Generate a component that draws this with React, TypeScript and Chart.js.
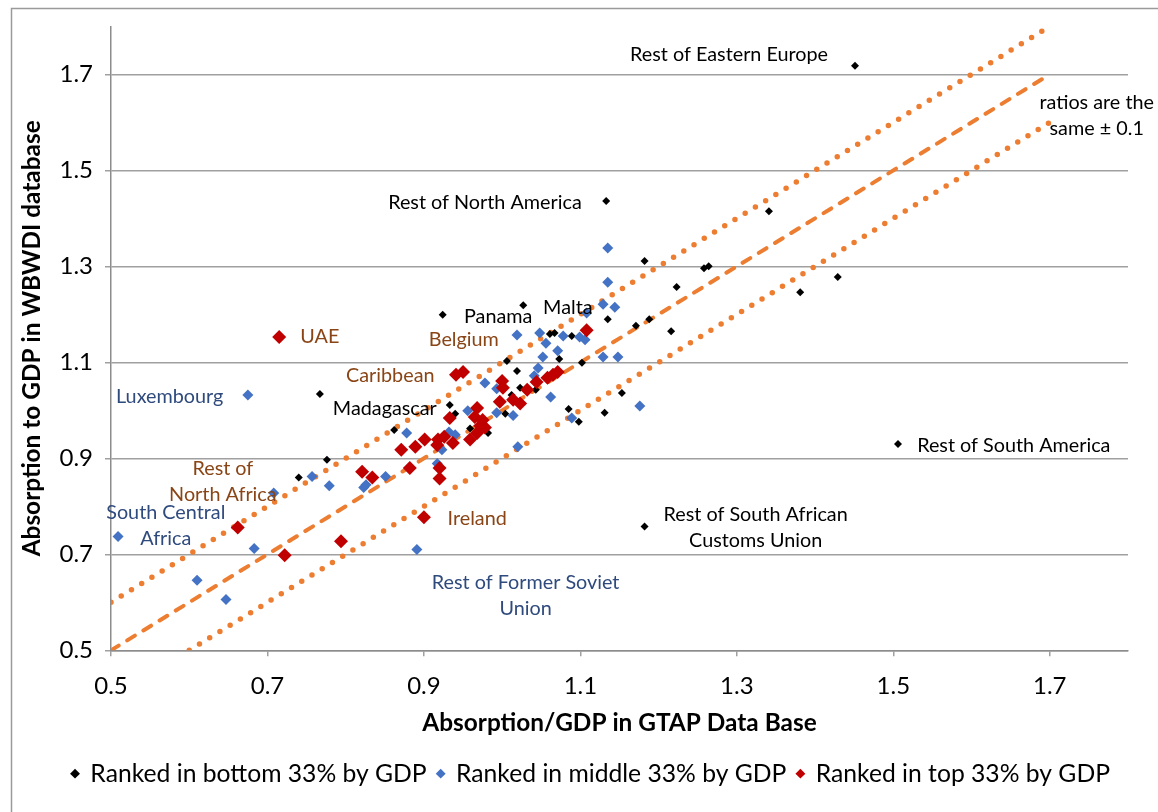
import React, { useEffect, useRef } from 'react';
import { Chart, registerables } from 'chart.js';

Chart.register(...registerables);

// Ranked in bottom 33% by GDP
const bottomX = [1.451, 1.133, 1.341, 1.182, 1.258, 1.264, 1.223, 1.429, 1.381, 0.924, 1.027, 1.135, 1.188, 1.171, 1.216, 1.061, 1.067, 1.089, 1.006, 1.019, 1.073, 1.102, 1.023, 1.043, 1.012, 1.004, 0.982, 1.085, 1.098, 1.131, 1.153, 1.506, 1.182, 0.767, 0.862, 0.776, 0.740, 0.933, 0.940, 0.959];
const bottomY = [1.718, 1.436, 1.415, 1.311, 1.296, 1.300, 1.257, 1.278, 1.246, 1.199, 1.219, 1.190, 1.190, 1.176, 1.165, 1.159, 1.161, 1.155, 1.103, 1.082, 1.107, 1.099, 1.047, 1.043, 1.032, 0.993, 0.953, 1.003, 0.976, 0.995, 1.036, 0.930, 0.758, 1.034, 0.959, 0.897, 0.860, 1.011, 0.993, 0.962];

// Ranked in middle 33% by GDP
const middleX = [0.675, 0.509, 0.610, 0.647, 0.683, 0.708, 0.757, 0.779, 0.823, 0.826, 0.851, 0.878, 0.891, 0.917, 0.923, 0.932, 0.940, 0.956, 0.978, 0.993, 0.993, 1.014, 1.020, 1.019, 1.048, 1.056, 1.078, 1.099, 1.106, 1.071, 1.052, 1.129, 1.148, 1.046, 1.041, 1.062, 1.089, 1.176, 1.108, 1.129, 1.144, 1.135, 1.135];
const middleY = [1.032, 0.737, 0.646, 0.606, 0.712, 0.828, 0.862, 0.843, 0.839, 0.845, 0.862, 0.953, 0.710, 0.889, 0.918, 0.955, 0.949, 0.999, 1.057, 1.045, 0.995, 0.989, 0.924, 1.157, 1.161, 1.140, 1.155, 1.153, 1.147, 1.124, 1.111, 1.111, 1.111, 1.088, 1.072, 1.028, 0.984, 1.009, 1.203, 1.221, 1.215, 1.267, 1.338];

// Ranked in top 33% by GDP
const topX = [0.715, 1.108, 0.941, 0.950, 1.000, 1.001, 0.997, 1.014, 1.023, 1.032, 1.044, 1.058, 1.065, 1.071, 0.968, 0.965, 0.975, 0.972, 0.978, 0.968, 0.959, 0.933, 0.918, 0.926, 0.917, 0.901, 0.889, 0.871, 0.920, 0.920, 0.882, 0.821, 0.834, 0.662, 0.722, 0.794, 0.900, 0.937];
const topY = [1.153, 1.167, 1.074, 1.080, 1.061, 1.047, 1.018, 1.022, 1.014, 1.043, 1.059, 1.068, 1.074, 1.080, 1.005, 0.986, 0.980, 0.968, 0.964, 0.953, 0.939, 0.984, 0.939, 0.945, 0.928, 0.939, 0.924, 0.918, 0.880, 0.858, 0.880, 0.872, 0.860, 0.756, 0.698, 0.727, 0.777, 0.932];

// Reference lines: equal ratios and ± 0.1
const equalX = [0.5, 1.7];
const equalY = [0.5, 1.7];
const upperX = [0.5, 1.7];
const upperY = [0.6, 1.8];
const lowerX = [0.6, 1.7];
const lowerY = [0.5, 1.6];

const xTicks = [0.5, 0.7, 0.9, 1.1, 1.3, 1.5, 1.7];
const yTicks = [0.5, 0.7, 0.9, 1.1, 1.3, 1.5, 1.7];

const seriesNames = ['Ranked in bottom 33% by GDP', 'Ranked in middle 33% by GDP', 'Ranked in top 33% by GDP'];

// Text annotations
const annText = ['Rest of Eastern Europe', 'Rest of North America', 'Panama', 'Malta', 'Belgium', 'UAE', 'Caribbean', 'Luxembourg', 'Madagascar', 'Rest of\nNorth Africa', 'South Central\nAfrica', 'Ireland', 'Rest of Former Soviet\nUnion', 'Rest of South America', 'Rest of South African\nCustoms Union', 'ratios are the\nsame ± 0.1'];
const annX = [1.290, 0.978, 0.995, 1.084, 0.951, 0.767, 0.857, 0.575, 0.850, 0.643, 0.570, 0.968, 1.030, 1.654, 1.324, 1.760];
const annY = [1.741, 1.433, 1.196, 1.215, 1.147, 1.153, 1.072, 1.028, 1.003, 0.851, 0.760, 0.774, 0.614, 0.926, 0.756, 1.614];
const annColor = ['#000', '#000', '#000', '#000', '#8A4516', '#8A4516', '#8A4516', '#2F4A7D', '#000', '#8A4516', '#2F4A7D', '#8A4516', '#2F4A7D', '#000', '#000', '#000'];

const FONT = 'Lato';

const zip = (xs: number[], ys: number[]) => xs.map((x, i) => ({ x, y: ys[i] }));

const annotationPlugin = {
  id: 'annotations',
  afterDatasetsDraw(chart: any) {
    const ctx = chart.ctx;
    const xs = chart.scales.x;
    const ys = chart.scales.y;
    ctx.save();
    ctx.font = `19.8px ${FONT}`;
    ctx.textAlign = 'center';
    ctx.textBaseline = 'middle';
    annText.forEach((t, i) => {
      const lines = t.split('\n');
      const cx = xs.getPixelForValue(annX[i]);
      const cy = ys.getPixelForValue(annY[i]);
      ctx.fillStyle = annColor[i];
      lines.forEach((ln, j) => {
        ctx.fillText(ln, cx, cy + (j - (lines.length - 1) / 2) * 26);
      });
    });
    ctx.restore();
  },
};

const framePlugin = {
  id: 'frame',
  beforeDraw(chart: any) {
    const ctx = chart.ctx;
    ctx.save();
    ctx.fillStyle = '#fff';
    ctx.fillRect(0, 0, chart.width, chart.height);
    ctx.strokeStyle = '#9A9A9A';
    ctx.lineWidth = 1.5;
    ctx.strokeRect(11.5, 8.5, chart.width + 10, chart.height + 10);
    ctx.restore();
  },
};

// Nudge the legend row to the right, as in the original layout
const legendShiftPlugin = {
  id: 'legendShift',
  afterLayout(chart: any) {
    const lg = chart.legend;
    if (lg) {
      lg.left += 21;
      lg.right += 21;
    }
  },
};

export default function App() {
  const canvasRef = useRef<HTMLCanvasElement | null>(null);

  useEffect(() => {
    if (!canvasRef.current) return;
    const pointBase = { pointStyle: 'rectRot', borderWidth: 0, showLine: false };
    const chart = new Chart(canvasRef.current, {
      type: 'scatter',
      data: {
        datasets: [
          { ...pointBase, label: seriesNames[0], data: zip(bottomX, bottomY), backgroundColor: '#000000', borderColor: '#000000', pointRadius: 4, order: 2 },
          { ...pointBase, label: seriesNames[1], data: zip(middleX, middleY), backgroundColor: '#4472C4', borderColor: '#4472C4', pointRadius: 5.5, order: 1 },
          { ...pointBase, label: seriesNames[2], data: zip(topX, topY), backgroundColor: '#C00000', borderColor: '#C00000', pointRadius: 7, order: 0 },
          { label: 'equal', data: zip(equalX, equalY), showLine: true, borderColor: '#ED7D31', borderWidth: 4, borderDash: [9, 10], borderCapStyle: 'round', pointRadius: 0, order: 3 },
          { label: 'upper', data: zip(upperX, upperY), showLine: true, borderColor: '#ED7D31', borderWidth: 5.5, borderDash: [0, 12], borderCapStyle: 'round', pointRadius: 0, order: 3 },
          { label: 'lower', data: zip(lowerX, lowerY), showLine: true, borderColor: '#ED7D31', borderWidth: 5.5, borderDash: [0, 12], borderCapStyle: 'round', pointRadius: 0, order: 3 },
        ] as any,
      },
      options: {
        animation: false,
        responsive: false,
        maintainAspectRatio: false,
        layout: { padding: { left: 12, top: 26, right: 30, bottom: 16 } },
        plugins: {
          tooltip: { enabled: false },
          legend: {
            position: 'bottom',
            labels: {
              usePointStyle: true,
              pointStyle: 'rectRot',
              boxHeight: 7,
              boxWidth: 6,
              padding: 11,
              color: '#000',
              font: { family: FONT, size: 24.7 },
              filter: (item: any) => item.datasetIndex < 3,
              sort: (a: any, b: any) => a.datasetIndex - b.datasetIndex,
            },
          },
        },
        scales: {
          x: {
            type: 'linear',
            min: 0.5,
            max: 1.8,
            afterBuildTicks: (scale: any) => { scale.ticks = xTicks.map((v) => ({ value: v })); },
            afterFit: (scale: any) => { scale.height = 100; },
            ticks: { callback: (v: any) => Number(v).toFixed(1), color: '#000', font: { family: FONT, size: 24 }, padding: 16, maxRotation: 0 },
            grid: { drawOnChartArea: false, drawTicks: true, tickLength: 6, color: '#A0A0A0', lineWidth: 1.5 },
            border: { color: '#8C8C8C', width: 1.5 },
            title: { display: true, text: 'Absorption/GDP in GTAP Data Base', color: '#000', font: { family: FONT, size: 24.4, weight: 'bold' }, padding: { top: 0, bottom: 13 } },
          },
          y: {
            type: 'linear',
            min: 0.5,
            max: 1.8,
            afterBuildTicks: (scale: any) => { scale.ticks = yTicks.map((v) => ({ value: v })); },
            afterFit: (scale: any) => { scale.width = 99; },
            ticks: { callback: (v: any) => Number(v).toFixed(1), color: '#000', font: { family: FONT, size: 24 }, padding: 12 },
            grid: { drawOnChartArea: true, drawTicks: true, tickLength: 6, color: '#A0A0A0', lineWidth: 1.5 },
            border: { color: '#8C8C8C', width: 1.5 },
            title: { display: true, text: 'Absorption to GDP in WBWDI database', color: '#000', font: { family: FONT, size: 24.4, weight: 'bold' }, padding: { top: 6, bottom: 0 } },
          },
        },
      },
      plugins: [framePlugin, annotationPlugin, legendShiftPlugin],
    } as any);
    return () => chart.destroy();
  }, []);

  return (
    <div style={{ position: 'fixed', left: 0, top: 0, width: 1158, height: 812, background: '#fff' }}>
      <canvas ref={canvasRef} width={1158} height={812} style={{ width: 1158, height: 812, display: 'block' }} />
    </div>
  );
}
